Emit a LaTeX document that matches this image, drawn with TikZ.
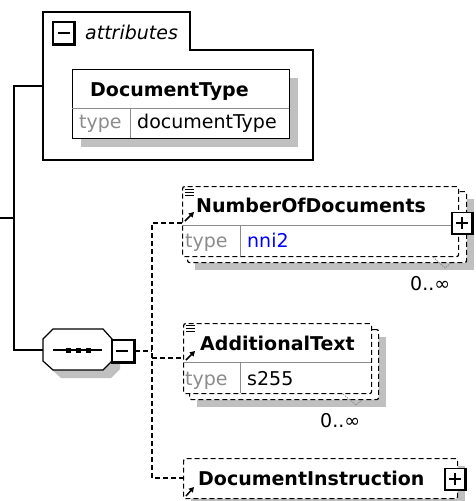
\documentclass[tikz,border=0pt]{standalone}
\usepackage{fontspec}
\setmainfont{DejaVu Sans}
\usepackage{tikz}
\usetikzlibrary{arrows.meta}
\definecolor{shadowgrey}{RGB}{192,192,192}
\definecolor{rulegrey}{RGB}{140,140,140}
\definecolor{faint}{RGB}{140,140,140}
\definecolor{link}{RGB}{0,0,255}
\tikzset{
  wire/.style={line width=1.2pt},
  dashwire/.style={line width=1.2pt,dash pattern=on 5pt off 3pt},
  optbox/.style={draw,fill=white,line width=1.2pt,dash pattern=on 5pt off 3pt,rounded corners=2pt,inner sep=0pt,anchor=north west},
  solidbox/.style={draw,fill=white,line width=1.2pt,inner sep=0pt,anchor=north west},
  shadowbox/.style={fill=shadowgrey,inner sep=0pt,anchor=north west},
  toggle/.style={draw,fill=white,line width=1.3pt,inner sep=0pt,minimum width=20pt,minimum height=21pt},
  txt/.style={inner sep=0pt,anchor=base west,font=\fontsize{19}{19}\selectfont},
  title/.style={inner sep=0pt,anchor=base west,font=\fontsize{19}{19}\selectfont\bfseries},
  refarrow/.style={line width=1.5pt,-{Triangle[length=5pt,width=5.5pt]}},
  occtick/.style={rulegrey,line width=0.8pt,dash pattern=on 1.5pt off 1pt}
}
\begin{document}
\begin{tikzpicture}[x=1pt,y=-1pt]
  \useasboundingbox (0,0) rectangle (475,501);
  \coordinate (root) at (0,218);
  \coordinate (fork) at (14,218);
  \coordinate (attrin) at (43,86);
  \coordinate (seqin) at (43,350);
  \draw[wire] (root) -- (fork);
  \draw[wire] (attrin) -| (fork) |- (seqin);
  \draw[wire,fill=white] (43,160) -- (43,12) -- (190,12) -- (190,50) -- (313,50) -- (313,160) -- cycle;
  \node[toggle,minimum width=21pt,minimum height=22pt] (attrtoggle) at (63.5,33) {};
  \draw[line width=2.2pt] (attrtoggle.north east) -- (attrtoggle.south east) -- (attrtoggle.south west);
  \draw[line width=1.3pt] (58,33) -- (70,33);
  \node[txt,font=\fontsize{19}{19}\selectfont\itshape] (attrlabel) at (85,39) {attributes};
  \node[shadowbox,minimum width=217pt,minimum height=69pt] (dtshadow) at (81,78) {};
  \node[solidbox,minimum width=217pt,minimum height=69pt] (dt) at (72,69) {};
  \draw[rulegrey] (72,108) -- (289,108);
  \draw[rulegrey] (130,108) -- (130,138);
  \node[title] (dtname) at (90,96) {DocumentType};
  \node[txt,text=faint] (dttype) at (79,128) {type};
  \node[txt] (dttypename) at (137,128) {documentType};
  \fill[shadowgrey] (51,347) -- (61,337) -- (111,337) -- (120,347) -- (120,369) -- (111,378) -- (61,378) -- (51,369) -- cycle;
  \draw[wire,fill=white] (43,339) -- (53,329) -- (103,329) -- (112,339) -- (112,361) -- (103,370) -- (53,370) -- (43,361) -- cycle;
  \draw[wire] (53,350) -- (102,350);
  \foreach \x in {68,78,88}
    \fill (\x-2.5,347.5) rectangle (\x+2.5,352.5);
  \node[toggle,minimum width=22pt,minimum height=22pt] (seqtoggle) at (123,351) {};
  \draw[line width=2.4pt] (seqtoggle.north east) -- (seqtoggle.south east) -- (seqtoggle.south west);
  \draw[line width=1.3pt] (116,351) -- (128,351);
  \coordinate (bustop) at (152,223);
  \coordinate (busbot) at (152,478);
  \coordinate (nodin) at (182,223);
  \coordinate (atin) at (183,358);
  \coordinate (diin) at (183,478);
  \draw[dashwire] (seqtoggle.east) -- (seqtoggle.east -| bustop);
  \draw[dashwire] (nodin) -- (bustop) -- (busbot) -- (diin);
  \draw[dashwire] (bustop |- atin) -- (atin);
  \node[shadowbox,minimum width=279pt,minimum height=71pt] (nodshadow) at (195,199) {};
  \node[optbox,minimum width=279pt,minimum height=71pt] (nodback) at (187,191) {};
  \node[optbox,minimum width=276pt,minimum height=70pt] (nod) at (182,186) {};
  \draw[rulegrey] (182,225) -- (456,225);
  \draw[rulegrey] (240,225) -- (240,256);
  \draw[line width=1pt] (185,189) -- (194,189) (185,192) -- (194,192) (185,195) -- (194,195);
  \draw[refarrow] (185,221) -- (194,212);
  \node[title] (nodname) at (196,212) {NumberOfDocuments};
  \node[txt,text=faint] (nodtype) at (185,247) {type};
  \node[txt,text=link] (nodtypename) at (247,247) {nni2};
  \node[toggle] (nodtoggle) at (462,223) {};
  \draw[line width=2.4pt] (nodtoggle.north east) -- (nodtoggle.south east) -- (nodtoggle.south west);
  \draw[line width=1.3pt] (456,223) -- (468,223) (462,217) -- (462,229);
  \draw[occtick] (433,257) -- (445,268) -- (451,263);
  \node[txt] (nodocc) at (410,290) {0..∞};
  \node[shadowbox,minimum width=189pt,minimum height=70pt] (atshadow) at (197,337) {};
  \node[optbox,minimum width=189pt,minimum height=70pt] (atback) at (189,329) {};
  \node[optbox,minimum width=188pt,minimum height=70pt] (at) at (183,323) {};
  \draw[rulegrey] (183,362) -- (371,362);
  \draw[rulegrey] (240,362) -- (240,393);
  \draw[line width=1pt] (186,325) -- (195,325) (186,328) -- (195,328) (186,331) -- (195,331);
  \draw[refarrow] (186,360) -- (195,351);
  \node[title] (atname) at (200,350) {AdditionalText};
  \node[txt,text=faint] (attype) at (185,385) {type};
  \node[txt] (attypename) at (247,385) {s255};
  \draw[occtick] (343,394) -- (356,405) -- (362,400);
  \node[txt] (atocc) at (320,427) {0..∞};
  \node[shadowbox,minimum width=274pt,minimum height=40pt] (dishadow) at (191,466) {};
  \node[optbox,minimum width=274pt,minimum height=40pt] (di) at (183,458) {};
  \draw[refarrow] (186,496) -- (194,487);
  \node[title] (diname) at (198,485) {DocumentInstruction};
  \node[toggle] (ditoggle) at (455,479) {};
  \draw[line width=2.4pt] (ditoggle.north east) -- (ditoggle.south east) -- (ditoggle.south west);
  \draw[line width=1.3pt] (449,479) -- (461,479) (455,473) -- (455,485);
\end{tikzpicture}
\end{document}
